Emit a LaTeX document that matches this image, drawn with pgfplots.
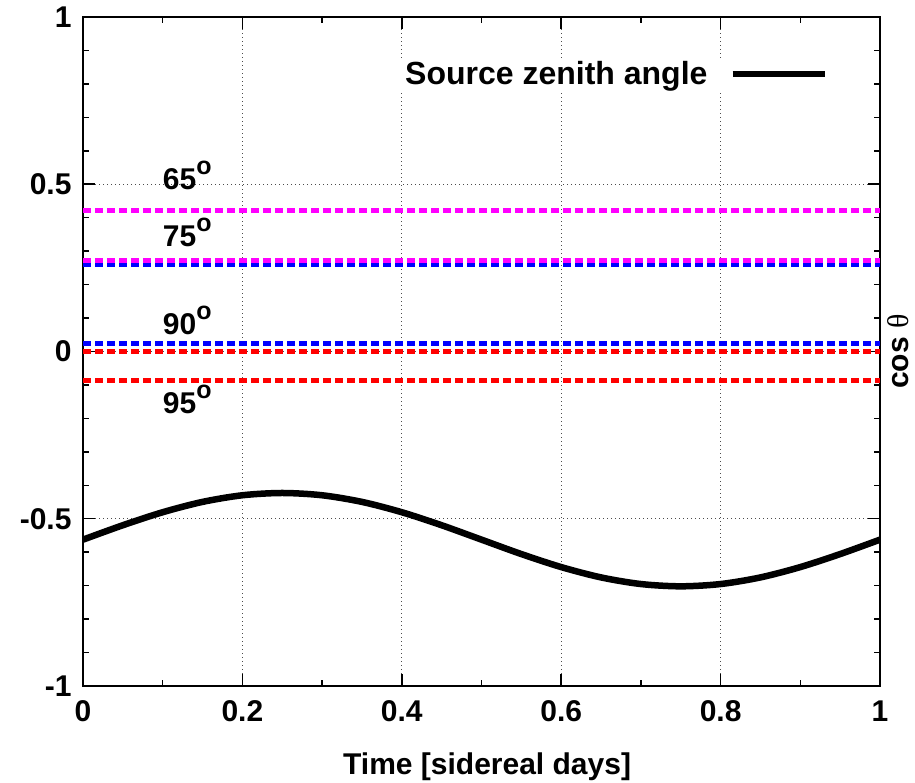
\documentclass[border=0pt]{standalone}
\usepackage{pgfplots}
\pgfplotsset{compat=1.18}
\usepackage{fontspec}
\setmainfont{Liberation Sans}
\newfontfamily\serifgreek{Liberation Serif}
\definecolor{mymag}{RGB}{255,0,255}
\definecolor{myblue}{RGB}{0,0,255}
\definecolor{myred}{RGB}{255,0,0}
\newcommand{\degl}[1]{#1\raisebox{15pt}{\fontsize{25}{25}\selectfont o}}
\begin{document}
\begin{tikzpicture}
\useasboundingbox (-83pt,-97pt) rectangle (832pt,686pt);
\begin{axis}[
  at={(0pt,0pt)}, anchor=south west,
  width=797pt, height=669pt, scale only axis,
  xmin=0, xmax=1, ymin=-1, ymax=1,
  xtick={0,0.2,0.4,0.6,0.8,1},
  xticklabels={0,0.2,0.4,0.6,0.8,1},
  ytick={-1,-0.5,0,0.5,1},
  yticklabels={-1,-0.5,0,0.5,1},
  minor x tick num=1, minor y tick num=4,
  grid=major,
  grid style={line width=1pt, dash pattern=on 1pt off 3pt, color=black!70},
  major tick length=12pt, minor tick length=6pt,
  every tick/.style={line width=1.5pt, black},
  axis line style={line width=2.5pt},
  tick align=inside,
  xtick pos=both, ytick pos=both,
  ticklabel style={font=\fontsize{30}{36}\selectfont\bfseries},
  xticklabel style={yshift=-11pt},
  yticklabel style={xshift=-8pt},
  label style={font=\fontsize{30}{36}\selectfont\bfseries},
  xlabel={Time [sidereal days]},
  xlabel style={at={(axis description cs:0.507,0)}, anchor=base, yshift=-89pt},
  ylabel={cos {\mdseries\serifgreek θ}},
  ylabel style={at={(axis description cs:1.036,0.5)}, anchor=base, inner sep=0pt},
  legend plot pos=right,
  legend style={draw=none, fill=white, inner sep=2pt,
    font=\fontsize{32}{38}\selectfont\bfseries,
    at={(axis description cs:0.9375,0.915)}, anchor=east,
    cells={anchor=east}},
  legend image code/.code={\path (0pt,0pt); \draw[line width=6.5pt] (20pt,0pt) -- (112pt,0pt);},
]
\addplot[myblue, line width=5pt, dash pattern=on 8pt off 4pt, forget plot] coordinates {(0,0.2588) (1,0.2588)};
\addplot[myblue, line width=5pt, dash pattern=on 8pt off 4pt, forget plot] coordinates {(0,0.023) (1,0.023)};
\addplot[myred, line width=5pt, dash pattern=on 8pt off 4pt, forget plot] coordinates {(0,0.0) (1,0.0)};
\addplot[myred, line width=5pt, dash pattern=on 8pt off 4pt, forget plot] coordinates {(0,-0.0872) (1,-0.0872)};
\addplot[mymag, line width=5pt, dash pattern=on 8pt off 4pt, forget plot] coordinates {(0,0.4226) (1,0.4226)};
\addplot[mymag, line width=5pt, dash pattern=on 8pt off 4pt, forget plot] coordinates {(0,0.272) (1,0.272)};
\addplot[black, line width=6.5pt, smooth] coordinates {
(0,-0.5625) (0.05,-0.5194) (0.1,-0.4805) (0.15,-0.4496) (0.2,-0.4298)
(0.25,-0.4230) (0.3,-0.4298) (0.35,-0.4496) (0.4,-0.4805) (0.45,-0.5194)
(0.5,-0.5625) (0.55,-0.6056) (0.6,-0.6445) (0.65,-0.6754) (0.7,-0.6952)
(0.75,-0.7020) (0.8,-0.6952) (0.85,-0.6754) (0.9,-0.6445) (0.95,-0.6056)
(1,-0.5625)};
\addlegendentry{Source zenith angle}
\node[anchor=base west, inner sep=0pt, font=\fontsize{30}{36}\selectfont\bfseries] at (axis cs:0.1,0.483) {\degl{65}};
\node[anchor=base west, inner sep=0pt, font=\fontsize{30}{36}\selectfont\bfseries] at (axis cs:0.1,0.313) {\degl{75}};
\node[anchor=base west, inner sep=0pt, font=\fontsize{30}{36}\selectfont\bfseries] at (axis cs:0.1,0.050) {\degl{90}};
\node[anchor=base west, inner sep=0pt, font=\fontsize{30}{36}\selectfont\bfseries] at (axis cs:0.1,-0.186) {\degl{95}};
\end{axis}
\end{tikzpicture}
\end{document}
